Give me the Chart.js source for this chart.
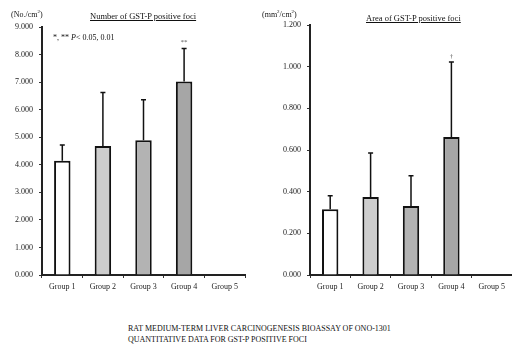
<!DOCTYPE html>
<html>
<head>
<meta charset="utf-8">
<script src="https://cdn.jsdelivr.net/npm/chart.js@4"></script>
<style>
    body { margin: 0; background: #fff; width: 512px; height: 347px; overflow: hidden; position: relative; font-family: "Liberation Serif", serif; color: #111; }
    .box { position: absolute; top: 0; width: 256px; height: 300px; }
    .lbl { position: absolute; font-size: 8px; white-space: nowrap; }
    .ttl { position: absolute; font-size: 8.5px; text-decoration: underline; white-space: nowrap; }
    .cap { position: absolute; left: 128px; top: 323px; font-size: 8px; line-height: 11px; color: #111; }
</style>
</head>
<body>
<div class="box" style="left:0"><canvas id="countChart"></canvas></div>
<div class="box" style="left:256px"><canvas id="areaChart"></canvas></div>
<div class="lbl" style="left:11px;top:9px">(No./cm<sup style="font-size:5px">2</sup>)</div>
<div class="ttl" style="left:90px;top:11px">Number of GST-P positive foci</div>
<div class="lbl" style="left:262px;top:9px">(mm<sup style="font-size:5px">2</sup>/cm<sup style="font-size:5px">2</sup>)</div>
<div class="ttl" style="left:366px;top:13px">Area of GST-P positive foci</div>
<div class="lbl" style="left:53px;top:33px">*, ** <i>P</i>&lt; 0.05, 0.01</div>
<div class="cap">RAT MEDIUM-TERM LIVER CARCINOGENESIS BIOASSAY OF ONO-1301<br>QUANTITATIVE DATA FOR GST-P POSITIVE FOCI</div>
<script>
// data
const groups = ['Group 1', 'Group 2', 'Group 3', 'Group 4', 'Group 5'];
const fociCount = [4.15, 4.68, 4.89, 7.02, null];
const fociCountErr = [4.72, 6.62, 6.36, 8.22, null];
const fociCountMarks = ['', '', '', '**', ''];
const fociArea = [0.316, 0.375, 0.331, 0.662, null];
const fociAreaErr = [0.380, 0.586, 0.476, 1.022, null];
const fociAreaMarks = ['', '', '', '\u2020', ''];

const barColors = ['#ffffff', '#cdcdcd', '#b3b3b3', '#a6a6a6', '#a6a6a6'];
const FONT = { family: 'Liberation Serif', size: 8 };

// draws the upper error whiskers and the significance marks
const errorBars = {
    id: 'errorBars',
    afterDatasetsDraw(chart, args, opts) {
        const ctx = chart.ctx;
        const meta = chart.getDatasetMeta(0);
        const y = chart.scales.y;
        ctx.save();
        ctx.strokeStyle = '#111';
        ctx.lineWidth = 1.5;
        opts.err.forEach((e, i) => {
            if (e == null) return;
            const bar = meta.data[i];
            const top = y.getPixelForValue(e);
            ctx.beginPath();
            ctx.moveTo(bar.x, bar.y);
            ctx.lineTo(bar.x, top);
            ctx.moveTo(bar.x - 2.5, top);
            ctx.lineTo(bar.x + 2.5, top);
            ctx.stroke();
            if (opts.marks[i]) {
                ctx.fillStyle = '#555';
                ctx.font = '7px "Liberation Serif"';
                ctx.textAlign = 'center';
                ctx.fillText(opts.marks[i], bar.x, top - 4);
            }
        });
        ctx.restore();
    }
};

function makeChart(id, values, err, marks, max, step, yWidth) {
    new Chart(document.getElementById(id), {
        type: 'bar',
        data: {
            labels: groups,
            datasets: [{
                data: values,
                backgroundColor: barColors,
                borderColor: '#111',
                borderWidth: 2,
                barPercentage: 0.9,
                categoryPercentage: 0.45
            }]
        },
        options: {
            responsive: true,
            maintainAspectRatio: false,
            animation: false,
            layout: { padding: { top: id === 'countChart' ? 27 : 25, right: id === 'countChart' ? 11 : 0, bottom: 0, left: 0 } },
            plugins: {
                legend: { display: false },
                tooltip: { enabled: false },
                errorBars: { err: err, marks: marks }
            },
            scales: {
                x: {
                    grid: { display: true, drawOnChartArea: false, offset: true, tickLength: 3, color: '#333' },
                    border: { color: '#222', width: 2 },
                    ticks: { font: FONT, color: '#222', padding: 4 },
                    afterFit: s => { s.height = 25; }
                },
                y: {
                    min: 0,
                    max: max,
                    grid: { display: true, drawOnChartArea: false, tickLength: 3, color: '#333' },
                    border: { color: '#222', width: 2 },
                    ticks: { stepSize: step, font: FONT, color: '#222', padding: 6, callback: v => v.toFixed(3) },
                    afterFit: s => { s.width = yWidth; }
                }
            }
        },
        plugins: [errorBars]
    });
}

makeChart('countChart', fociCount, fociCountErr, fociCountMarks, 9, 1, 42);
makeChart('areaChart', fociArea, fociAreaErr, fociAreaMarks, 1.2, 0.2, 54);
</script>
</body>
</html>
